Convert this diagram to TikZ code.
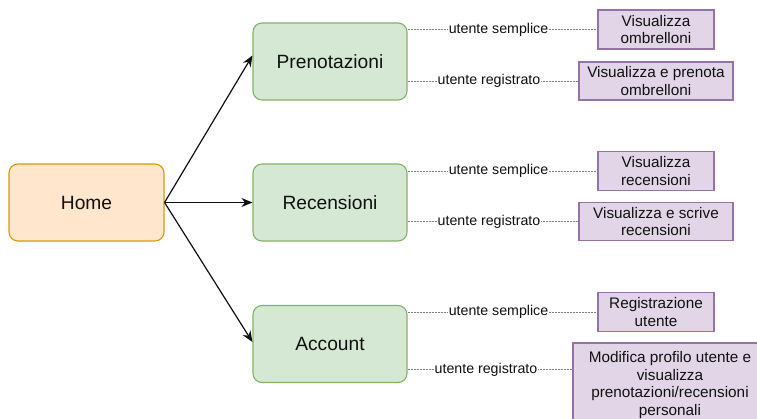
\documentclass[tikz,border=0pt]{standalone}
\usepackage{fontspec}
\setmainfont{Liberation Sans}
\usetikzlibrary{arrows.meta,calc}

\definecolor{homefill}{HTML}{FFE6CC}
\definecolor{homeline}{HTML}{D79B00}
\definecolor{pagefill}{HTML}{D5E8D4}
\definecolor{pageline}{HTML}{82B366}
\definecolor{actfill}{HTML}{E1D5E7}
\definecolor{actline}{HTML}{9673A6}
\definecolor{txt}{HTML}{111111}
\definecolor{dotline}{HTML}{808080}

\tikzset{
  homebox/.style={draw=homeline, fill=homefill, line width=1.1pt, rounded corners=9pt,
    minimum width=155pt, minimum height=77pt, text=txt,
    font=\fontsize{19.2}{23}\selectfont},
  pagebox/.style={draw=pageline, fill=pagefill, line width=1.1pt, rounded corners=9pt,
    minimum width=154pt, minimum height=77pt, text=txt,
    font=\fontsize{19.2}{23}\selectfont},
  actbox/.style={draw=actline, fill=actfill, line width=1.1pt, align=center, text=txt,
    inner sep=0pt, font=\fontsize{15.3}{17.8}\selectfont},
  link/.style={-{Stealth[length=11pt,width=9pt]}, line width=1.2pt, draw=txt},
  role/.style={draw=dotline, line width=0.9pt, dash pattern=on 2pt off 1pt},
  rolelbl/.style={fill=white, inner sep=1pt, text=txt, xshift=-4pt,
    font=\fontsize{14.2}{16}\selectfont}
}

\begin{document}
\begin{tikzpicture}[x=1pt, y=-1pt]
  \useasboundingbox (0,0) rectangle (757,419);
  \begin{scope}
  \clip (0,0) rectangle (757,419);

  % main pages
  \node[homebox] (H) at (86.5,202.5) {Home};
  \node[pagebox] (P) at (330,61.5)  {Prenotazioni};
  \node[pagebox] (R) at (330,202.5) {Recensioni};
  \node[pagebox] (A) at (330,344)   {Account};

  % functions per user type
  \node[actbox, minimum width=116pt, minimum height=39pt] (Ps) at (656,29.5)
    {Visualizza\\ombrelloni};
  \node[actbox, minimum width=154pt, minimum height=38pt] (Pr) at (656,81)
    {Visualizza e prenota\\ombrelloni};
  \node[actbox, minimum width=116pt, minimum height=39pt] (Rs) at (656,171)
    {Visualizza\\recensioni};
  \node[actbox, minimum width=154pt, minimum height=38pt] (Rr) at (656,221.5)
    {Visualizza e scrive\\recensioni};
  \node[actbox, minimum width=116pt, minimum height=39pt] (As) at (656,312)
    {Registrazione\\utente};
  \node[actbox, minimum width=194pt, minimum height=84pt] (Ar) at (670,385)
    {Modifica profilo utente e\\visualizza\\prenotazioni/recensioni\\personali};
  \coordinate (arin) at ([yshift=-27pt]Ar.north west);

  % navigation from home
  \draw[link] (H.east) -- ([yshift=6pt]P.west);
  \draw[link] (H.east) -- (R.west);
  \draw[link] (H.east) -- ([yshift=2pt]A.west);

  % user roles
  \draw[role] (P.east |- Ps) -- node[rolelbl] {utente semplice} (Ps.west);
  \draw[role] (P.east |- Pr) -- node[rolelbl] {utente registrato} (Pr.west);
  \draw[role] (R.east |- Rs) -- node[rolelbl] {utente semplice} (Rs.west);
  \draw[role] (R.east |- Rr) -- node[rolelbl] {utente registrato} (Rr.west);
  \draw[role] (A.east |- As) -- node[rolelbl] {utente semplice} (As.west);
  \draw[role] (A.east |- arin) -- node[rolelbl] {utente registrato} (arin);
  \end{scope}
\end{tikzpicture}
\end{document}
